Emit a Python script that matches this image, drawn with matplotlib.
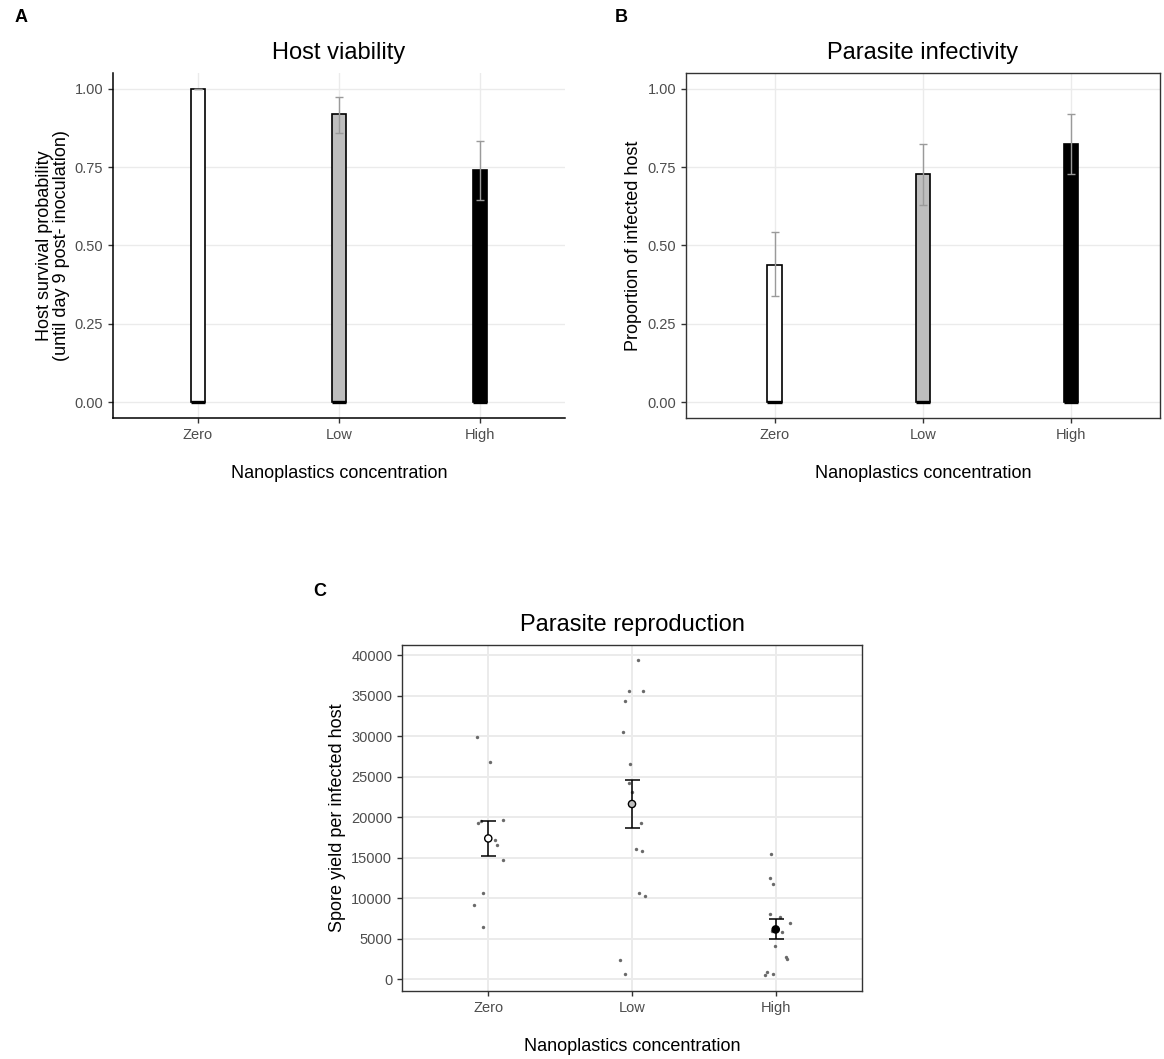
import matplotlib
matplotlib.use("Agg")
import matplotlib.pyplot as plt

plt.rcParams['font.family'] = ['Liberation Sans', 'DejaVu Sans']

groups = ['Zero', 'Low', 'High']
fills = ['white', '#bebebe', 'black']

# host survival until day 9 (proportion, lower / upper CI)
survival = [1.00, 0.920, 0.742]
survival_lo = [1.00, 0.859, 0.645]
survival_hi = [1.00, 0.974, 0.832]

# proportion of infected hosts
infected = [0.438, 0.729, 0.824]
infected_lo = [0.340, 0.629, 0.729]
infected_hi = [0.543, 0.824, 0.919]

# spore yield per infected host, individual hosts (with jitter offsets)
spores_zero = [29960, 26870, 19590, 19260, 19630, 17160, 16580, 14730, 10620, 9220, 6420]
jit_zero = [-0.08, 0.01, -0.05, -0.07, 0.10, 0.05, 0.06, 0.10, -0.04, -0.10, -0.04]
spores_low = [39380, 35540, 35540, 34300, 30550, 26540, 24230, 23120, 19320, 16060, 15770,
              10690, 10240, 2350, 660]
jit_low = [0.04, -0.02, 0.08, -0.05, -0.06, -0.015, -0.02, 0.0, 0.06, 0.03, 0.07,
           0.05, 0.09, -0.08, -0.05]
spores_high = [15470, 12550, 11810, 8100, 7740, 6960, 5970, 5840, 4070, 2760, 2470, 900, 580, 650]
jit_high = [-0.03, -0.04, -0.02, -0.04, 0.03, 0.10, -0.025, 0.045, -0.005, 0.07, 0.08,
            -0.06, -0.075, -0.02]

spore_mean = [17380, 21630, 6150]
spore_lo = [15230, 18700, 4950]
spore_hi = [19525, 24600, 7470]

x = [1, 2, 3]
bar_w = 0.1
grid_col = '#ebebeb'
tick_col = '#4d4d4d'

fig = plt.figure(figsize=(11.64, 10.59), dpi=100)


def setup(ax, box, lw_grid=1.0):
    ax.set_xlim(0.4, 3.6)
    ax.set_xticks(x)
    ax.set_xticklabels(groups)
    ax.grid(True, color=grid_col, lw=lw_grid, zorder=0)
    ax.set_axisbelow(True)
    ax.tick_params(colors='#333333', labelcolor=tick_col, labelsize=10.5, length=3.5, width=1.0)
    if box:
        for s in ax.spines.values():
            s.set_color('#333333')
            s.set_linewidth(1.0)
    else:
        ax.spines['top'].set_visible(False)
        ax.spines['right'].set_visible(False)
        for s in ('left', 'bottom'):
            ax.spines[s].set_color('black')
            ax.spines[s].set_linewidth(1.1)
    ax.set_xlabel('Nanoplastics concentration', fontsize=13, labelpad=17)


def bar_panel(ax, vals, lo, hi):
    ax.bar(x, vals, width=bar_w, color=fills, edgecolor='black', linewidth=1.2, zorder=2)
    # heavier outline along the bar base
    ax.hlines([0] * len(x), [xi - bar_w / 2 for xi in x], [xi + bar_w / 2 for xi in x],
              colors='black', lw=2.4, zorder=2.5)
    err = [[v - l for v, l in zip(vals, lo)], [h - v for v, h in zip(vals, hi)]]
    ax.errorbar(x, vals, yerr=err, fmt='none', ecolor='#9a9a9a', elinewidth=1.0,
                capsize=2.7, capthick=1.0, zorder=3)
    ax.set_ylim(-0.05, 1.05)
    ax.set_yticks([0, 0.25, 0.5, 0.75, 1.0])
    ax.set_yticklabels(['0.00', '0.25', '0.50', '0.75', '1.00'])


# A: host viability
axA = fig.add_axes([0.0971, 0.6053, 0.3883, 0.3258])
setup(axA, box=False)
bar_panel(axA, survival, survival_lo, survival_hi)
axA.set_title('Host viability', fontsize=17, pad=10)
axA.set_ylabel('Host survival probability\n(until day 9 post- inoculation)', fontsize=13,
               labelpad=3, linespacing=1.0)

# B: parasite infectivity
axB = fig.add_axes([0.5893, 0.6053, 0.4072, 0.3258])
setup(axB, box=True)
bar_panel(axB, infected, infected_lo, infected_hi)
axB.set_title('Parasite infectivity', fontsize=17, pad=10)
axB.set_ylabel('Proportion of infected host', fontsize=13, labelpad=4)

# C: parasite reproduction
axC = fig.add_axes([0.3454, 0.0642, 0.3951, 0.3267])
setup(axC, box=True, lw_grid=1.4)
for xi, pts, jit in zip(x, [spores_zero, spores_low, spores_high], [jit_zero, jit_low, jit_high]):
    axC.scatter([xi + j for j in jit], pts, s=6, color='#6a6a6a', linewidths=0, zorder=3)
err = [[m - l for m, l in zip(spore_mean, spore_lo)], [h - m for m, h in zip(spore_mean, spore_hi)]]
axC.errorbar(x, spore_mean, yerr=err, fmt='none', ecolor='black', elinewidth=1.1,
             capsize=5.4, capthick=1.1, zorder=4)
axC.scatter(x, spore_mean, s=27, c=fills, edgecolors='black', linewidths=1.0, zorder=5)
axC.set_ylim(-1450, 41250)
axC.set_yticks(range(0, 40001, 5000))
axC.set_title('Parasite reproduction', fontsize=17, pad=10)
axC.set_ylabel('Spore yield per infected host', fontsize=13, labelpad=4)

for lbl, px, py in [('A', 15, 18), ('B', 615, 18), ('C', 313, 592)]:
    fig.text(px / 1164, 1 - py / 1059, lbl, fontsize=13, fontweight='bold', ha='left', va='center')

fig.savefig('out.png', dpi=100)
